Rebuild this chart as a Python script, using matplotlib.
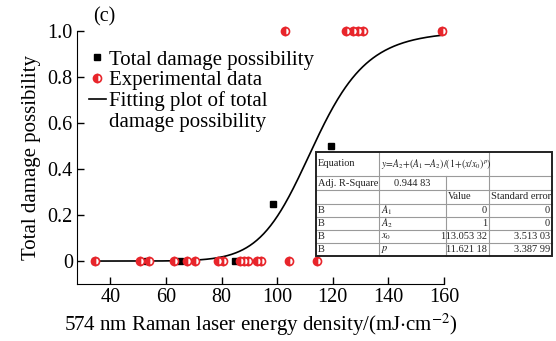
import numpy as np
import matplotlib
matplotlib.use("Agg")
from matplotlib import pyplot as plt
from matplotlib.lines import Line2D

plt.rcParams['font.family'] = ['Liberation Serif', 'DejaVu Serif']
plt.rcParams['mathtext.fontset'] = 'stix'

# experimental data (red half-filled circles)
exp_x = [34.6, 50.8, 53.8, 62.8, 67.4, 70.3, 78.8, 80.6, 86.6, 88.0, 89.6, 92.6, 94.1, 104.3, 114.5,
         102.9, 124.9, 127.1, 129.1, 131.0, 159.2]
exp_y = [0] * 15 + [1] * 6

# total damage possibility (black squares)
tot_x = [34.6, 53.0, 65.2, 84.7, 98.4, 119.5, 159.2]
tot_y = [0, 0, 0, 0, 0.25, 0.5, 1.0]

# fit parameters
A1, A2, x0, p = 0.0, 1.0, 113.05332, 11.62118

red = '#e8252b'

fig = plt.figure(figsize=(5.56, 3.41), dpi=100)
ax = fig.add_axes([0.1385, 0.167, 0.66, 0.742])

xf = np.linspace(34.6, 159.2, 400)
yf = A2 + (A1 - A2) / (1 + (xf / x0) ** p)
ax.plot(xf, yf, color='black', lw=1.2, zorder=2)
ax.plot(tot_x, tot_y, 's', color='black', ms=4.5, ls='none', zorder=3, clip_on=False)
ax.plot(exp_x, exp_y, 'o', ls='none', ms=5.8, fillstyle='left', markerfacecolor=red,
        markerfacecoloralt='white', markeredgecolor=red, mew=1.2, zorder=4, clip_on=False)

ax.set_xlim(28, 160)
ax.set_ylim(-0.1, 1.0)
ax.set_xticks([40, 60, 80, 100, 120, 140, 160])
ax.set_yticks([0, 0.2, 0.4, 0.6, 0.8, 1.0])
ax.set_yticklabels(['0', '0.2', '0.4', '0.6', '0.8', '1.0'])
ax.tick_params(direction='in', length=5, width=1, labelsize=14.5, pad=3)
ax.spines['top'].set_visible(False)
ax.spines['right'].set_visible(False)
ax.set_xlabel(r'574 nm Raman laser energy density/(mJ$\cdot$cm$^{-2}$)', fontsize=15, labelpad=3)
ax.set_ylabel('Total damage possibility', fontsize=15, labelpad=5)
ax.text(0.044, 1.055, '(c)', transform=ax.transAxes, fontsize=14.5, va='center', ha='left')

# legend: the fit label wraps onto a second row with no handle of its own
handles = [
    Line2D([], [], marker='s', color='black', ls='none', ms=4.5),
    Line2D([], [], marker='o', ls='none', ms=5.8, fillstyle='left', markerfacecolor=red,
           markerfacecoloralt='white', markeredgecolor=red, mew=1.2),
    Line2D([], [], color='black', lw=1.2),
    Line2D([], [], color='none'),
]
labels = ['Total damage possibility', 'Experimental data', 'Fitting plot of total', 'damage possibility']
ax.legend(handles, labels, loc='upper left', bbox_to_anchor=(0.033, 0.925), frameon=False,
          fontsize=15, handlelength=0.8, handletextpad=0.15, labelspacing=0.05, borderaxespad=0,
          borderpad=0)

# fit result table (pixel layout)
W, H = 556, 341
def fx(v):
    return v / W
def fy(v):
    return 1 - v / H

cols = [316, 379, 446, 489, 552]
rows = [152, 176, 190, 203.5, 217, 230, 243, 256]
grey = '#9a9a9a'
tr = fig.transFigure

fig.patches.append(plt.Rectangle((fx(cols[0]), fy(rows[-1])), fx(cols[-1] - cols[0]),
                                 (rows[-1] - rows[0]) / H, transform=tr, facecolor='white',
                                 edgecolor='none', zorder=5))
for r in rows[1:-1]:
    fig.add_artist(Line2D([fx(cols[0]), fx(cols[-1])], [fy(r), fy(r)], color=grey, lw=0.8, transform=tr, zorder=6))
for c, top in [(cols[1], rows[0]), (cols[2], rows[1]), (cols[3], rows[0])]:
    fig.add_artist(Line2D([fx(c), fx(c)], [fy(top), fy(rows[-1])], color=grey, lw=0.8, transform=tr, zorder=6))
fig.patches.append(plt.Rectangle((fx(cols[0]), fy(rows[-1])), fx(cols[-1] - cols[0]),
                                 (rows[-1] - rows[0]) / H, transform=tr, facecolor='none',
                                 edgecolor='#222222', lw=1.4, zorder=7))

tfs = 7.5
def cell(text, ci, ri, align='left', span=1, size=tfs):
    y = fy((rows[ri] + rows[ri + 1]) / 2)
    if align == 'left':
        x = fx(cols[ci] + 2)
    elif align == 'right':
        x = fx(cols[ci + span] - 2)
    else:
        x = fx((cols[ci] + cols[ci + span]) / 2)
    fig.text(x, y, text, ha=align, va='center', fontsize=size, color='#222222', zorder=8)

cell('Equation', 0, 0)
cell(r'$y\!=\!A_2\!+\!(A_1\!-\!A_2)/(1\!+\!(x/x_0)^p)$', 1, 0, span=2, size=7)
cell('Adj. R-Square', 0, 1)
cell('0.944 83', 1, 1, align='center')
cell('Value', 2, 2)
cell('Standard error', 3, 2)
params = [r'$A_1$', r'$A_2$', r'$x_0$', r'$p$']
values = ['0', '1', '113.053 32', '11.621 18']
errors = ['0', '0', '3.513 03', '3.387 99']
for i in range(4):
    cell('B', 0, 3 + i)
    cell(params[i], 1, 3 + i)
    cell(values[i], 2, 3 + i, align='right')
    cell(errors[i], 3, 3 + i, align='right')

fig.savefig('out.png', dpi=100)
